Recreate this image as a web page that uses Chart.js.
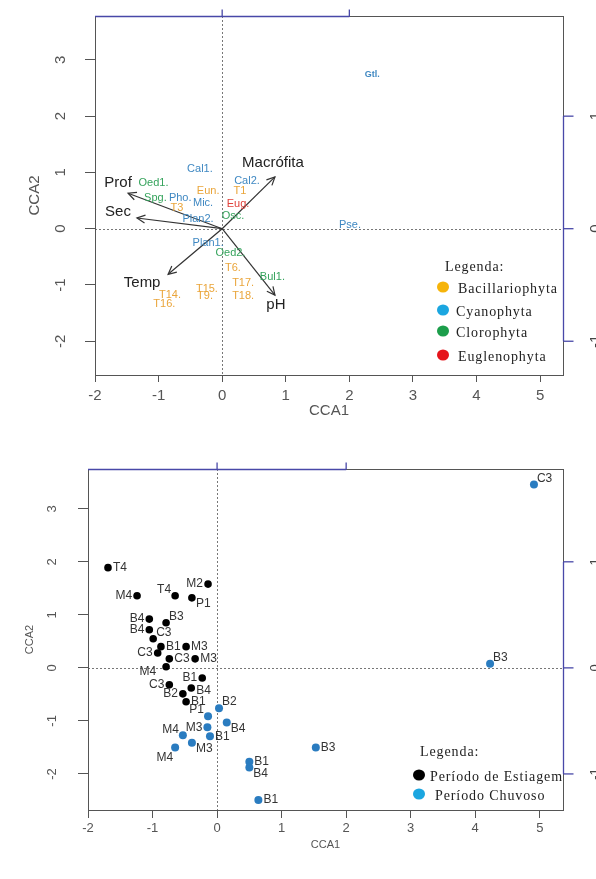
<!DOCTYPE html>
<html>
<head>
<meta charset="utf-8">
<title>CCA</title>
<script src="https://cdn.jsdelivr.net/npm/chart.js@4.4.1/dist/chart.umd.min.js"></script>
<style>
  body { margin: 0; background: #fff; width: 596px; height: 879px; overflow: hidden; position: relative; }
  canvas { position: absolute; left: 0; }
  #topChart { top: 0; }
  #bottomChart { top: 440px; }
</style>
</head>
<body>
<canvas id="topChart" width="596" height="440"></canvas>
<canvas id="bottomChart" width="596" height="439"></canvas>
<script>
// environmental vectors (top plot)
var envNames = ["Macrófita", "Prof", "Sec", "Temp", "pH"];
var envX = [0.83, -1.48, -1.34, -0.85, 0.83];
var envY = [0.92, 0.63, 0.19, -0.81, -1.18];

// species scores (top plot)
var sppNames = ["Cal1.", "Cal2.", "Oed1.", "Eun.", "T1", "Spg.", "Pho.", "Mic.", "Eug.", "T3", "Plan2.", "Osc.",
  "Plan1.", "Oed2.", "T6.", "Bul1.", "T17.", "T15.", "T9.", "T18.", "T14.", "T16.", "Pse.", "Gtl."];
var sppX = [-0.35, 0.39, -1.08, -0.22, 0.28, -1.05, -0.66, -0.30, 0.25, -0.71, -0.38, 0.17,
  -0.22, 0.13, 0.17, 0.79, 0.33, -0.24, -0.27, 0.33, -0.82, -0.91, 2.01, 2.36];
var sppY = [1.07, 0.85, 0.82, 0.67, 0.67, 0.55, 0.55, 0.46, 0.44, 0.36, 0.18, 0.23,
  -0.25, -0.44, -0.69, -0.85, -0.96, -1.07, -1.19, -1.19, -1.17, -1.33, 0.07, 2.74];
var sppGroup = [1, 1, 2, 0, 0, 2, 1, 1, 3, 0, 1, 2, 1, 2, 0, 2, 0, 0, 0, 0, 0, 0, 1, 1];
var groupNames = ["Bacillariophyta", "Cyanophyta", "Clorophyta", "Euglenophyta"];

// site scores (bottom plot)
var dryNames = ["T4", "M2", "T4", "M4", "P1", "B4", "B3", "B4", "C3", "B1", "M3", "C3", "C3", "M3", "M4", "C3", "B1", "B4", "B2", "B1"];
var dryX = [-1.69, -0.14, -0.65, -1.24, -0.39, -1.05, -0.79, -1.05, -0.99, -0.87, -0.48, -0.92, -0.74, -0.34, -0.79, -0.74, -0.23, -0.40, -0.53, -0.48];
var dryY = [1.89, 1.58, 1.36, 1.36, 1.32, 0.92, 0.85, 0.72, 0.55, 0.40, 0.40, 0.28, 0.17, 0.17, 0.02, -0.32, -0.19, -0.38, -0.49, -0.64];
var wetNames = ["B2", "P1", "B4", "M3", "M4", "B1", "M3", "M4", "B1", "B4", "B3", "B1", "B3", "C3"];
var wetX = [0.03, -0.14, 0.15, -0.15, -0.53, -0.11, -0.39, -0.65, 0.50, 0.50, 1.53, 0.64, 4.23, 4.91];
var wetY = [-0.76, -0.91, -1.03, -1.12, -1.27, -1.29, -1.41, -1.50, -1.77, -1.88, -1.50, -2.49, 0.08, 3.46];
var periodNames = ["Período de Estiagem", "Período Chuvoso"];

// secondary (blue) axes, in units of the main axes
var secondaryTicks = [-1, 0, 1];
var secondaryFactor = 2;

// styles
var SANS = '"Liberation Sans", Arial, sans-serif';
var SERIF = '"Liberation Serif", "Times New Roman", serif';
var groupTextColors = ["#eaa53a", "#3f88c2", "#35a35c", "#e0403a"];
var groupDotColors = ["#f6b40a", "#1ba6e0", "#1c9e4b", "#e5141b"];
var periodColors = ["#000000", "#2a7cc0"];
var periodLegendColors = ["#000000", "#1ba6e0"];
var dryLabelPos = ["r", "l", "lu", "l", "rd", "l", "ru", "l", "ru", "r", "r", "l", "r", "r", "ls", "l", "l", "rs", "l", "r"];
var wetLabelPos = ["ru", "lu", "rd", "l", "lu", "r", "rd", "ld", "r", "rd", "r", "r", "ru", "ru"];
var envLabelOffset = { "Macrófita": [-2, -14], "Prof": [-10, -10], "Sec": [-19, -6], "Temp": [-26, 9], "pH": [1, 10] };

var LABEL_OFFSETS = {
  c: [0, 0, "center"],
  r: [5, 0, "left"],
  ru: [3, -6, "left"],
  rd: [4, 6, "left"],
  rs: [5, 3, "left"],
  l: [-5, 0, "right"],
  lu: [-4, -6, "right"],
  ld: [-2, 10, "right"],
  ls: [-10, 5, "right"]
};

function rotText(ctx, txt, x, y) {
  ctx.save();
  ctx.translate(x, y);
  ctx.rotate(-Math.PI / 2);
  ctx.fillText(txt, 0, 0);
  ctx.restore();
}

function hline(ctx, x1, y1, x2, y2) {
  ctx.beginPath();
  ctx.moveTo(x1, y1);
  ctx.lineTo(x2, y2);
  ctx.stroke();
}

var framePlugin = {
  id: "rframe",
  beforeDatasetsDraw: function (chart) {
    var ctx = chart.ctx, a = chart.chartArea, xs = chart.scales.x, ys = chart.scales.y;
    var x0 = Math.round(xs.getPixelForValue(0)) + 0.5, y0 = Math.round(ys.getPixelForValue(0)) + 0.5;
    ctx.save();
    ctx.strokeStyle = "#777";
    ctx.lineWidth = 1;
    ctx.setLineDash([2, 2]);
    hline(ctx, x0, a.top, x0, a.bottom);
    hline(ctx, a.left, y0, a.right, y0);
    ctx.restore();
  },
  afterDraw: function (chart, args, o) {
    var ctx = chart.ctx, a = chart.chartArea, xs = chart.scales.x, ys = chart.scales.y;
    ctx.save();
    ctx.lineWidth = 1;
    ctx.strokeStyle = "#555";
    ctx.strokeRect(Math.round(a.left) + 0.5, Math.round(a.top) + 0.5, Math.round(a.right - a.left), Math.round(a.bottom - a.top));

    // blue secondary axes (top and right)
    ctx.strokeStyle = "#4848a8";
    ctx.lineWidth = 1.3;
    var top = Math.round(a.top) + 0.5, right = Math.round(a.right) + 0.5;
    var sx = secondaryTicks.map(function (t) { return xs.getPixelForValue(t * secondaryFactor); });
    var sy = secondaryTicks.map(function (t) { return ys.getPixelForValue(t * secondaryFactor); });
    hline(ctx, sx[0], top, sx[sx.length - 1], top);
    sx.forEach(function (px, i) { if (i > 0) hline(ctx, px, top, px, top - 7); });
    hline(ctx, right, sy[0], right, sy[sy.length - 1]);
    sy.forEach(function (py) { hline(ctx, right, py, right + 10, py); });
    ctx.fillStyle = "#444";
    ctx.font = o.tickFont;
    ctx.textAlign = "center";
    ctx.textBaseline = "middle";
    secondaryTicks.forEach(function (t, i) { rotText(ctx, String(t), right + 32, sy[i]); });

    // y tick labels, rotated like base graphics
    ctx.fillStyle = "#555";
    ys.ticks.forEach(function (t) { rotText(ctx, String(t.value), o.yLabelX, ys.getPixelForValue(t.value)); });

    // axis titles
    ctx.font = o.titleFont;
    ctx.fillText("CCA1", (a.left + a.right) / 2, o.xTitleY);
    rotText(ctx, "CCA2", o.yTitleX, o.yTitleY || (a.top + a.bottom) / 2);
    ctx.restore();
  }
};

var labelPlugin = {
  id: "pointLabels",
  afterDatasetsDraw: function (chart) {
    var ctx = chart.ctx;
    chart.data.datasets.forEach(function (ds, i) {
      var meta = chart.getDatasetMeta(i);
      ctx.save();
      ctx.textBaseline = "middle";
      if (ds.labelTexts) {
        meta.data.forEach(function (pt, k) {
          var off = LABEL_OFFSETS[ds.labelPos ? ds.labelPos[k] : "c"];
          ctx.font = ds.labelFonts ? ds.labelFonts[k] : ds.labelFont;
          ctx.fillStyle = ds.labelColors ? ds.labelColors[k] : ds.labelColor;
          ctx.textAlign = off[2];
          ctx.fillText(ds.labelTexts[k], pt.x + off[0], pt.y + off[1]);
        });
      }
      if (ds.arrowName) {
        var p0 = meta.data[0], p1 = meta.data[1];
        var ang = Math.atan2(p1.y - p0.y, p1.x - p0.x), L = 9, w = 0.45;
        ctx.strokeStyle = "#333";
        ctx.lineWidth = 1.2;
        ctx.beginPath();
        ctx.moveTo(p1.x - L * Math.cos(ang - w), p1.y - L * Math.sin(ang - w));
        ctx.lineTo(p1.x, p1.y);
        ctx.lineTo(p1.x - L * Math.cos(ang + w), p1.y - L * Math.sin(ang + w));
        ctx.stroke();
        var off = envLabelOffset[ds.arrowName];
        ctx.font = "15px " + SANS;
        ctx.fillStyle = "#222";
        ctx.textAlign = "center";
        ctx.fillText(ds.arrowName, p1.x + off[0], p1.y + off[1]);
      }
      ctx.restore();
    });
  }
};

var legendPlugin = {
  id: "rlegend",
  afterDraw: function (chart, args, o) {
    var ctx = chart.ctx;
    ctx.save();
    ctx.textBaseline = "middle";
    ctx.textAlign = "left";
    ctx.fillStyle = "#222";
    ctx.font = o.font;
    ctx.letterSpacing = o.spacing;
    ctx.fillText("Legenda:", o.titleX, o.titleY);
    o.items.forEach(function (it, i) {
      ctx.fillStyle = it.color;
      ctx.beginPath();
      ctx.ellipse(o.dotX, o.rows[i], 6, 5.5, 0, 0, Math.PI * 2);
      ctx.fill();
      ctx.fillStyle = "#222";
      ctx.fillText(it.label, o.textX[i], o.rows[i] + 2);
    });
    ctx.restore();
  }
};

function scaleOpts(min, max, fontSize, size, tickLen, pad, isX) {
  return {
    type: "linear",
    min: min,
    max: max,
    ticks: { stepSize: 1, includeBounds: false, display: isX, color: "#555", padding: pad,
      font: { family: SANS, size: fontSize }, maxRotation: 0 },
    grid: { drawOnChartArea: false, drawTicks: true, tickLength: tickLen, color: "#555", tickWidth: 1 },
    border: { display: false },
    afterFit: function (s) { if (isX) { s.height = size; } else { s.width = size; } }
  };
}

// ---------------- top chart ----------------
var sppData = sppX.map(function (x, i) { return { x: x, y: sppY[i] }; });
var topDatasets = [{
  data: sppData,
  pointRadius: 0,
  labelTexts: sppNames,
  labelColors: sppGroup.map(function (g) { return groupTextColors[g]; }),
  labelFonts: sppNames.map(function (n) { return n === "Gtl." ? "bold 9px " + SANS : "11px " + SANS; })
}].concat(envNames.map(function (n, i) {
  return {
    data: [{ x: 0, y: 0 }, { x: envX[i], y: envY[i] }],
    showLine: true,
    borderColor: "#333",
    borderWidth: 1.2,
    pointRadius: 0,
    arrowName: n
  };
}));

new Chart(document.getElementById("topChart"), {
  type: "scatter",
  data: { datasets: topDatasets },
  options: {
    responsive: false,
    animation: false,
    events: [],
    layout: { padding: { top: 16, right: 33, left: 0, bottom: 0 } },
    scales: {
      x: scaleOpts(-2, 5.36, 15, 65, 7, 5, true),
      y: scaleOpts(-2.6, 3.78, 15, 95, 10, 3, false)
    },
    plugins: {
      legend: { display: false },
      tooltip: { enabled: false },
      rframe: { tickFont: "15px " + SANS, titleFont: "15px " + SANS, yLabelX: 61, xTitleY: 411, yTitleX: 35 },
      rlegend: {
        font: "14px " + SERIF, spacing: "0.9px",
        titleX: 445, titleY: 267, dotX: 443,
        rows: [287, 310, 331, 355], textX: [458, 456, 456, 458],
        items: groupNames.map(function (g, i) { return { label: g, color: groupDotColors[i] }; })
      }
    }
  },
  plugins: [framePlugin, labelPlugin, legendPlugin]
});

// ---------------- bottom chart ----------------
function sitePoints(xs, ys) { return xs.map(function (x, i) { return { x: x, y: ys[i] }; }); }

new Chart(document.getElementById("bottomChart"), {
  type: "scatter",
  data: {
    datasets: [{
      data: sitePoints(dryX, dryY),
      pointRadius: 3.8,
      pointBackgroundColor: periodColors[0],
      pointBorderWidth: 0,
      labelTexts: dryNames,
      labelPos: dryLabelPos,
      labelColor: "#333",
      labelFont: "12px " + SANS
    }, {
      data: sitePoints(wetX, wetY),
      pointRadius: 4,
      pointBackgroundColor: periodColors[1],
      pointBorderWidth: 0,
      labelTexts: wetNames,
      labelPos: wetLabelPos,
      labelColor: "#333",
      labelFont: "12px " + SANS
    }]
  },
  options: {
    responsive: false,
    animation: false,
    events: [],
    layout: { padding: { top: 29, right: 33, left: 0, bottom: 0 } },
    scales: {
      x: scaleOpts(-2, 5.36, 13, 69, 8, 3, true),
      y: scaleOpts(-2.68, 3.75, 13, 88, 10, 3, false)
    },
    plugins: {
      legend: { display: false },
      tooltip: { enabled: false },
      rframe: { tickFont: "13px " + SANS, titleFont: "11px " + SANS, yLabelX: 52, xTitleY: 405, yTitleX: 30 },
      rlegend: {
        font: "14px " + SERIF, spacing: "0.9px",
        titleX: 420, titleY: 312, dotX: 419,
        rows: [335, 354], textX: [430, 435],
        items: periodNames.map(function (p, i) { return { label: p, color: periodLegendColors[i] }; })
      }
    }
  },
  plugins: [framePlugin, labelPlugin, legendPlugin]
});
</script>
</body>
</html>
